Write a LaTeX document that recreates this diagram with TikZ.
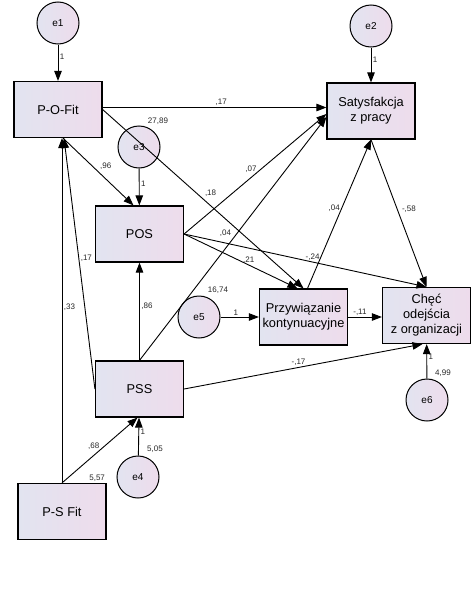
\documentclass[tikz,border=0pt]{standalone}
\usepackage{fontspec}
\setmainfont{Liberation Sans}
\usetikzlibrary{arrows.meta}
\definecolor{boxl}{RGB}{226,228,240}
\definecolor{boxr}{RGB}{238,220,236}

\begin{document}
\begin{tikzpicture}[x=1pt, y=-1pt,
        box/.style={draw, line width=1.2pt, left color=boxl, right color=boxr,
            minimum width=88pt, minimum height=56pt, align=center, inner sep=1pt,
            font=\fontsize{12.8}{15}\selectfont},
        err/.style={draw, circle, line width=1pt, minimum size=42pt, inner sep=0pt,
            left color=boxl, right color=boxr, font=\fontsize{10}{12}\selectfont},
        arr/.style={line width=0.9pt, -{Triangle[length=10pt, width=7.5pt]}},
        lbl/.style={font=\fontsize{8}{9}\selectfont, inner sep=1.5pt, text=black!85}]
        \useasboundingbox (0,0) rectangle (474,613);

        \node[err] (e1) at (58,23) {e1};
        \node[box] (pof) at (58,109.5) {P-O-Fit};
        \node[err] (e3) at (139,147) {e3};
        \node[box] (pos) at (139.5,234) {POS};
        \node[box] (pss) at (139.5,389) {PSS};
        \node[err] (e4) at (138,477) {e4};
        \node[box] (psf) at (62,511.5) {P-S Fit};
        \node[err] (e2) at (371,26) {e2};
        \node[box] (sat) at (371,111) {Satysfakcja\\z pracy};
        \node[err] (e5) at (199,317) {e5};
        \node[box] (prz) at (303.5,317) {Przywiązanie\\kontynuacyjne};
        \node[box] (che) at (426.5,315.5) {Chęć\\odejścia\\z organizacji};
        \node[err] (e6) at (427,400) {e6};

        \draw[arr] (e1) -- node[lbl, pos=.35, right] {1} (pof);
        \draw[arr] (e2) -- node[lbl, pos=.36, right] {1} (sat);
        \draw[arr] (e3) -- node[lbl, pos=.4, right] {1} (pos);
        \draw[arr] (e4) -- node[lbl, pos=.64, right] {1} (pss);
        \draw[arr] (e5) -- node[lbl, pos=.4, above] {1} (prz);
        \draw[arr] (e6) -- node[lbl, pos=.62, right] {1} (che);

        \draw[arr] ([yshift=2pt]pof.east) -- node[lbl, pos=.53, above] {,17}
            ([yshift=2pt]pof.east -| sat.west);
        \draw[arr] (pof.east) -- node[lbl, pos=.5, above right] {,18} (prz.north);
        \draw[arr] ([xshift=5pt]pof.south) -- node[lbl, pos=.5, above right] {,96}
            ([xshift=-6pt]pos.north);
        \draw[arr] (pos.east) -- node[lbl, pos=.47, above=3pt] {,07} ([yshift=-3pt]sat.west);
        \draw[arr] (pos.east) -- node[lbl, pos=.57, above] {,21} ([xshift=-6pt]prz.north);
        \draw[arr] (pos.east) -- node[lbl, pos=.53, above] {-,24} (che.north);
        \draw[arr] (pss.north) -- node[lbl, pos=.5, above left] {,04} ([yshift=-6pt]sat.west);
        \draw[arr] ([xshift=4pt]prz.north) -- node[lbl, pos=.54, left] {,04} (sat.south);
        \draw[arr] (sat.south) -- node[lbl, pos=.47, right=3pt] {-,58} (che.north);
        \draw[arr] (prz.east) -- node[lbl, pos=.35, above] {-,11} (prz.east -| che.west);
        \draw[arr] (pss.east) -- node[lbl, pos=.48, above] {-,17} ([xshift=-4pt]che.south);
        \draw[arr] (pss) -- node[lbl, pos=.55, right] {,86} (pos);
        \draw[arr] (pss.west) -- node[lbl, pos=.52, right] {,17} ([xshift=6pt]pof.south);
        \draw[arr] (psf.north) -- node[lbl, pos=.51, right] {,33} (psf.north |- pof.south);
        \draw[arr] (psf.north) -- node[lbl, pos=.42, above=4pt] {,68} ([xshift=-2pt]pss.south);

        \node[lbl] at ([shift={(19,-26)}]e3) {27,89};
        \node[lbl] at ([shift={(19,-27)}]e5) {16,74};
        \node[lbl] at ([shift={(17,-28)}]e4) {5,05};
        \node[lbl] at ([shift={(16,-27)}]e6) {4,99};
        \node[lbl, anchor=south east] at (psf.north east) {5,57};
    \end{tikzpicture}
\end{document}
